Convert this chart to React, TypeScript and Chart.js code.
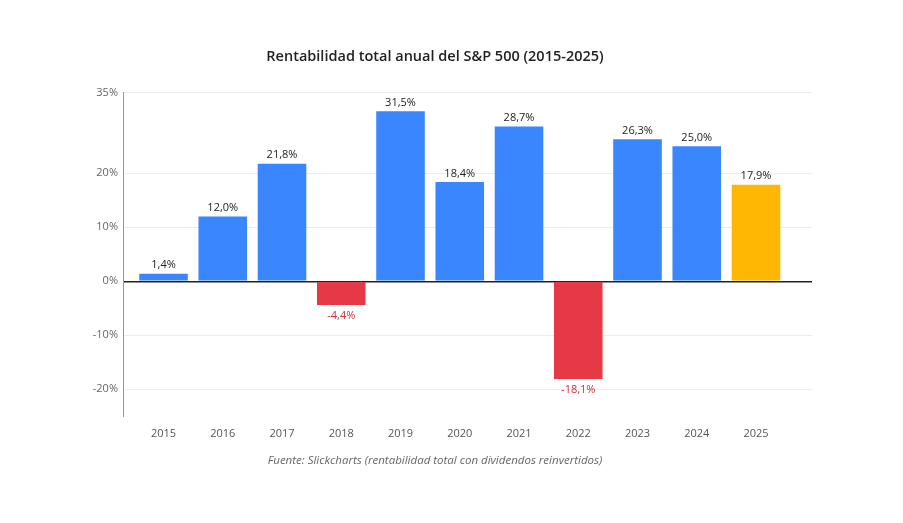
import React, { useEffect, useRef } from "react";
import { Chart, registerables } from "chart.js";

Chart.register(...registerables);

const years = ["2015", "2016", "2017", "2018", "2019", "2020", "2021", "2022", "2023", "2024", "2025"];
const returns = [1.4, 12.0, 21.8, -4.4, 31.5, 18.4, 28.7, -18.1, 26.3, 25.0, 17.9];
const yTickValues = [-20, -10, 0, 10, 20, 35];
const partialYearIndex = 10;
const titleText = "Rentabilidad total anual del S&P 500 (2015-2025)";
const sourceText = "Fuente: Slickcharts (rentabilidad total con dividendos reinvertidos)";

const BLUE = "#3a86ff";
const RED = "#e63946";
const YELLOW = "#ffb703";
const FONT = '"Open Sans", "Segoe UI", sans-serif';

const fmt = (v: number) => v.toFixed(1).replace(".", ",") + "%";

const valueLabels = {
  id: "valueLabels",
  afterDatasetsDraw(chart: any) {
    const ctx = chart.ctx;
    const meta = chart.getDatasetMeta(0);
    ctx.save();
    ctx.font = `11px ${FONT}`;
    ctx.textAlign = "center";
    meta.data.forEach((bar: any, i: number) => {
      const v = returns[i];
      if (v >= 0) {
        ctx.fillStyle = "#222";
        ctx.textBaseline = "bottom";
        ctx.fillText(fmt(v), bar.x, bar.y - 3);
      } else {
        ctx.fillStyle = "#c8323f";
        ctx.textBaseline = "top";
        ctx.fillText(fmt(v), bar.x, bar.y + 5);
      }
    });
    ctx.restore();
  },
};

export default function App() {
  const ref = useRef<HTMLCanvasElement | null>(null);

  useEffect(() => {
    if (!ref.current) return;
    const chart = new Chart(ref.current, {
      type: "bar",
      data: {
        datasets: [
          {
            data: returns.map((v, i) => ({ x: i, y: v })),
            backgroundColor: returns.map((v, i) => (v < 0 ? RED : i === partialYearIndex ? YELLOW : BLUE)),
            borderWidth: 0,
            barPercentage: 0.82,
            categoryPercentage: 1,
          },
        ],
      },
      options: {
        responsive: false,
        animation: false,
        layout: { padding: { left: 58, right: 91, top: 0, bottom: 0 } },
        plugins: {
          legend: { display: false },
          tooltip: { enabled: false },
          title: {
            display: true,
            text: titleText,
            color: "#222",
            font: { family: FONT, size: 14.5, weight: "600" },
            padding: { top: 48, bottom: 27 },
          },
          subtitle: {
            display: true,
            position: "bottom",
            text: sourceText,
            color: "#666",
            font: { family: FONT, size: 11.5, style: "italic" },
            padding: { top: 0, bottom: 55 },
          },
        },
        scales: {
          x: {
            type: "linear",
            offset: false,
            min: -0.684,
            max: 10.945,
            afterBuildTicks: (s: any) => {
              s.ticks = years.map((_, i) => ({ value: i }));
            },
            afterFit: (s: any) => {
              s.height = 38;
            },
            ticks: {
              callback: (v: any) => years[v as number] ?? "",
              color: "#555",
              font: { family: FONT, size: 11 },
              padding: 11,
              autoSkip: false,
              maxRotation: 0,
            },
            grid: { display: false, drawTicks: false, offset: false },
            border: { display: false },
          },
          y: {
            min: -25,
            max: 35,
            afterBuildTicks: (s: any) => {
              s.ticks = yTickValues.map((v) => ({ value: v }));
            },
            afterFit: (s: any) => {
              s.width = 65;
            },
            ticks: {
              callback: (v: any) => v + "%",
              color: "#666",
              font: { family: FONT, size: 11 },
              padding: 5,
            },
            grid: {
              drawTicks: false,
              color: (c: any) => (c.tick && c.tick.value === 0 ? "#222" : "#ececec"),
              lineWidth: (c: any) => (c.tick && c.tick.value === 0 ? 1.5 : 1),
            },
            border: { display: true, color: "#999", width: 1 },
          },
        },
      },
      plugins: [valueLabels],
    } as any);
    return () => chart.destroy();
  }, []);

  return (
    <div style={{ position: "fixed", left: 0, top: 0, width: 903, height: 523, background: "#fff" }}>
      <canvas ref={ref} width={903} height={523} />
    </div>
  );
}
